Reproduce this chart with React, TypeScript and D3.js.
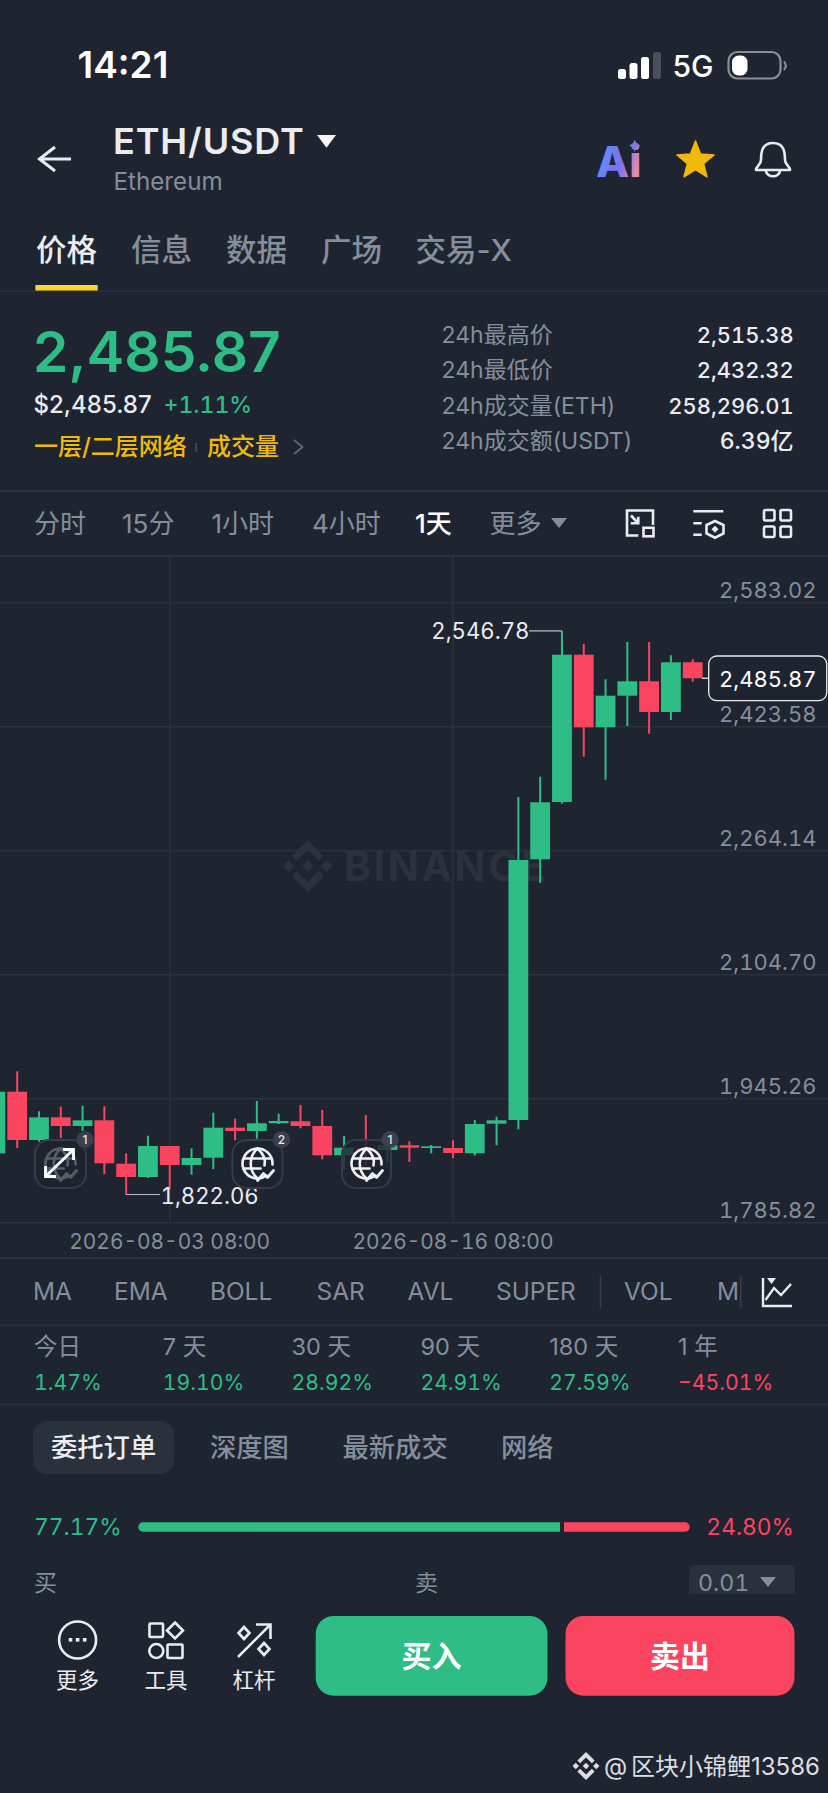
import React from "react";
import * as d3 from "d3";

const W = 828;
const H = 1793;
const BG = "#1f2530";
const GREEN = "#2ebd85";
const RED = "#fb4460";
const GRID = "#2b313c";
const MUTED = "#848e9c";
const LIGHT = "#eaecef";
const LATIN = "Inter, 'Noto Sans CJK SC', sans-serif";

const opens = [1875.06, 1954.26, 1892.15, 1921.34, 1910.16, 1917.48, 1861.68, 1844.58, 1884.44, 1860.02, 1869.4, 1907.97, 1903.73, 1913.63, 1916.2, 1910.16, 1872.48, 1882.25, 1879.3, 1885.34, 1881.87, 1881.87, 1875.06, 1913.11, 1917.87, 2253.08, 2326.76, 2516.16, 2422.81, 2463.44, 2481.96, 2442.48, 2506.39];
const closes = [1954.26, 1892.15, 1921.34, 1910.16, 1917.48, 1862.2, 1844.58, 1884.44, 1860.02, 1869.02, 1907.97, 1903.73, 1913.63, 1916.58, 1910.16, 1872.48, 1882.25, 1879.3, 1885.34, 1882.25, 1884.05, 1875.44, 1912.73, 1917.48, 2252.18, 2326.37, 2516.16, 2422.81, 2463.44, 2481.96, 2442.48, 2506.39, 2485.87];
const highs = [1960, 1980.49, 1929.06, 1934.97, 1936.26, 1935.49, 1875.06, 1897.68, 1884.44, 1881.48, 1927.26, 1919.54, 1942.3, 1925.97, 1937.16, 1930.73, 1897.3, 1924.3, 1888.3, 1890.48, 1885.73, 1891.77, 1917.87, 1922.11, 2333.19, 2359.29, 2546.78, 2529.92, 2484.53, 2532.49, 2532.49, 2515.38, 2510.24];
const lows = [1870, 1881.87, 1889.97, 1894.73, 1903.73, 1848.05, 1822.06, 1843.29, 1828.76, 1847.54, 1854.87, 1891.77, 1893.82, 1912.73, 1907.2, 1867.34, 1853.58, 1860.02, 1862.97, 1863.87, 1875.06, 1869.02, 1871.97, 1885.34, 1905.91, 2222.61, 2324.57, 2385.01, 2355.43, 2424.48, 2414.58, 2432.32, 2481.44];
const priceTicks = [2583.02, 2423.58, 2264.14, 2104.7, 1945.26, 1785.82];
const dateTicks = [{ index: 8, label: "2026-08-03 08:00" }, { index: 21, label: "2026-08-16 08:00" }];
const topTabs = [["价格", 36], ["信息", 131], ["数据", 226], ["广场", 321], ["交易-X", 415.5]] as const;
const statLabels = ["24h最高价", "24h最低价", "24h成交量(ETH)", "24h成交额(USDT)"];
const statValues = ["2,515.38", "2,432.32", "258,296.01", "6.39亿"];
const periods = [["分时", 34], ["15分", 122], ["1小时", 211.5], ["4小时", 312], ["1天", 415], ["更多", 489.5]] as const;
const indicators = [["MA", 33], ["EMA", 114], ["BOLL", 210], ["SAR", 316.5], ["AVL", 407.5], ["SUPER", 496], ["VOL", 624], ["MA", 717]] as const;
const perfLabels = ["今日", "7 天", "30 天", "90 天", "180 天", "1 年"];
const perfValues = [1.47, 19.1, 28.92, 24.91, 27.59, -45.01];
const bookTabs = [["深度图", 210], ["最新成交", 342.5], ["网络", 501]] as const;
const buyShare = 77.17;
const sellShare = 24.8;

const yScale = d3.scaleLinear().domain([1785.82, 2583.02]).range([1222.7, 602.7]);
const xScale = d3.scaleLinear().domain([0, 32]).range([-4.6, 692.7]);
const fmt = d3.format(",.2f");

const T = ({ x, y, s, c = MUTED, w = 400, a = "start", f = LATIN, ls, tn, children }: any) => (
  <text x={x} y={y} fontSize={s} fill={c} fontWeight={w} textAnchor={a} fontFamily={f} letterSpacing={ls} style={tn ? { fontFeatureSettings: "'tnum' 1" } : undefined}>
    {children}
  </text>
);

const Globe = ({ cx, cy, o = 1 }: any) => (
  <g opacity={o} fill="none" stroke="#f0f1f3" strokeWidth={2.6} strokeLinecap="round" strokeLinejoin="round">
    <path d={`M${cx + 9},${cy + 12} A15,15 0 1 1 ${cx + 15},${cy + 1}`} />
    <path d={`M${cx},${cy - 15} C${cx - 9},${cy - 7} ${cx - 9},${cy + 7} ${cx},${cy + 15}`} />
    <path d={`M${cx},${cy - 15} C${cx + 8},${cy - 8} ${cx + 8},${cy - 2} ${cx + 7},${cy + 2}`} />
    <path d={`M${cx - 13},${cy - 5} H${cx + 13}`} />
    <path d={`M${cx - 14},${cy + 5} H${cx + 3}`} />
    <path d={`M${cx},${cy + 17} L${cx + 6},${cy + 10} L${cx + 10},${cy + 14} L${cx + 16},${cy + 7}`} strokeWidth={2.8} />
  </g>
);

const EventIcon = ({ x0, x1, badge, dim }: any) => {
  const cy = 1163.5;
  return (
    <g>
      <rect x={x0} y={1140} width={x1 - x0} height={48} rx={14} fill={BG} fillOpacity={0.82} stroke="#363c47" strokeWidth={2} />
      <Globe cx={(x0 + x1) / 2} cy={cy} o={dim ? 0.28 : 1} />
      <circle cx={x1 - 1} cy={1139.5} r={8.6} fill="#3b414c" />
      <T x={x1 - 1} y={1144} s={12} a="middle" c="#e6e8ea" w={500}>{badge}</T>
    </g>
  );
};

const BinanceMark = ({ cx, cy, r, c }: any) => {
  const u = r / 26;
  const d = (x: number, y: number, k: number) => `M${cx + x * u},${cy + (y - k) * u} L${cx + (x + k) * u},${cy + y * u} L${cx + x * u},${cy + (y + k) * u} L${cx + (x - k) * u},${cy + y * u} Z`;
  return (
    <g fill={c}>
      <path d={d(0, 0, 6)} />
      <path d={d(-19, 0, 6)} />
      <path d={d(19, 0, 6)} />
      <path d={`M${cx},${cy - 26 * u} L${cx + 16 * u},${cy - 10 * u} L${cx + 11 * u},${cy - 5 * u} L${cx},${cy - 16 * u} L${cx - 11 * u},${cy - 5 * u} L${cx - 16 * u},${cy - 10 * u} Z`} />
      <path d={`M${cx},${cy + 26 * u} L${cx + 16 * u},${cy + 10 * u} L${cx + 11 * u},${cy + 5 * u} L${cx},${cy + 16 * u} L${cx - 11 * u},${cy + 5 * u} L${cx - 16 * u},${cy + 10 * u} Z`} />
    </g>
  );
};

export default function App() {
  const candleW = 19.8;
  const hiIdx = d3.greatestIndex(highs);
  const loIdx = d3.leastIndex(lows) as number;
  const last = closes[closes.length - 1];
  return (
    <svg width={W} height={H} viewBox={`0 0 ${W} ${H}`} style={{ position: "absolute", left: 0, top: 0, background: BG, display: "block" }}>
      <rect width={W} height={H} fill={BG} />

      {/* status bar */}
      <T x={77.5} y={78} s={37} c="#fff" w={600}>14:21</T>
      {[[618, 69], [629.5, 63], [641, 57], [653, 52]].map(([x, top], i) => (
        <rect key={i} x={x} y={top} width={8} height={79 - top} rx={2.5} fill={i === 3 ? "#4a4f59" : "#fff"} />
      ))}
      <T x={672.5} y={77} s={30} c="#fff" w={500}>5G</T>
      <rect x={728.5} y={52} width={52} height={26.5} rx={9} fill="none" stroke="#8a8f97" strokeWidth={2.2} />
      <rect x={732} y={55.5} width={15.5} height={20} rx={6.5} fill="#fff" />
      <path d="M784,61.5 Q787.5,65.5 784,70" fill="none" stroke="#8a8f97" strokeWidth={2} />

      {/* header */}
      <path d="M55,147 L39.5,159 L55,171 M39.5,159 H71" fill="none" stroke={LIGHT} strokeWidth={3} />
      <T x={113} y={154.3} s={36} c={LIGHT} w={600} ls={0.9}>ETH/USDT</T>
      <path d="M317,135 H336 L326.5,147.7 Z" fill="#f5f5f5" />
      <T x={113.5} y={190} s={24.2}>Ethereum</T>
      <defs>
        <linearGradient id="aiG" x1="0" y1="0" x2="1" y2="0.4">
          <stop offset="0" stopColor="#5b9bff" />
          <stop offset="0.65" stopColor="#7a70f0" />
          <stop offset="1" stopColor="#e08ab0" />
        </linearGradient>
      </defs>
      <text x={596} y={176.7} fontSize={43} fontWeight={800} fill="url(#aiG)" fontFamily={LATIN}>Ai</text>
      <path d="M634.7,139 Q635.5,144 640.5,145.5 Q635.5,147 634.7,152 Q634,147 629,145.5 Q634,144 634.7,139 Z" fill="#7c79f2" />
      <path d={`M695.5,141 ${d3.range(1, 10).map((i) => {
        const ang = (i * Math.PI) / 5;
        const rad = i % 2 ? 8.5 : 19.5;
        return `L${695.5 + rad * Math.sin(ang)},${161 - rad * Math.cos(ang)}`;
      }).join(" ")} Z`} fill="#f0b90b" stroke="#f0b90b" strokeWidth={1.5} strokeLinejoin="round" />
      <path d="M773,143 C762,143 761,152 761,160 C761,165 756,166 756,170 H790 C790,166 785,165 785,160 C785,152 784,143 773,143 Z M766,171 C767,178 779,178 780,171" fill="none" stroke={LIGHT} strokeWidth={2.6} strokeLinejoin="round" />

      {/* tabs */}
      {topTabs.map(([t, x], i) => (
        <T key={t} x={x} y={261} s={30.5} c={i === 0 ? LIGHT : MUTED} w={500}>{t}</T>
      ))}
      <rect x={35.4} y={285} width={62.3} height={6} fill="#fcd535" />
      <rect x={0} y={290.5} width={W} height={1.5} fill={GRID} />

      {/* price block */}
      <T x={33} y={371.7} s={56.8} c={GREEN} w={600}>2,485.87</T>
      <T x={33.5} y={413.3} s={24} c={LIGHT} w={500}>$2,485.87</T>
      <T x={163.5} y={413.3} s={23} c={GREEN} w={500} tn>+1.11%</T>
      <T x={34} y={455} s={24} c="#f0b90b" w={500}>一层/二层网络</T>
      <rect x={195.5} y={443} width={1.5} height={9} fill="#4a505b" />
      <T x={207} y={455} s={24} c="#f0b90b" w={500}>成交量</T>
      <path d="M294,440 L302.5,447 L294,454" fill="none" stroke="#5e6673" strokeWidth={1.8} />
      {statLabels.map((t, i) => (
        <T key={t} x={441.5} y={[343.3, 378.3, 414, 449.3][i]} s={23}>{t}</T>
      ))}
      {statValues.map((t, i) => (
        <T key={t} x={793.6} y={[343.3, 378.3, 414, 449.3][i]} s={i === 3 ? 23 : 21.9} c={LIGHT} w={500} a="end" tn>{t}</T>
      ))}
      <rect x={0} y={490} width={W} height={2} fill={GRID} />

      {/* periods */}
      {periods.map(([t, x]) => (
        <T key={t} x={x} y={533} s={26} c={t === "1天" ? "#fff" : MUTED} w={t === "1天" ? 500 : 400}>{t}</T>
      ))}
      <path d="M551,518 H567 L559,528 Z" fill={MUTED} />
      <g fill="none" stroke={LIGHT} strokeWidth={2.6}>
        <path d="M653,525 V510.5 H627 V535.5 H638.3" />
        <path d="M631,515.5 L638,523 M638.3,516.7 V523.3 H630.7" />
        <rect x={643.5} y={527.8} width={10} height={8.5} />
        <path d="M693.3,511.3 H723.3 M693.3,523.3 H701.7 M693.3,534.7 H701.7" />
        <path d="M715,521 L723.5,525 V533.5 L715,537.7 L706.5,533.5 V525 Z" />
        <rect x={764} y={510} width={10.5} height={10.5} rx={1.5} />
        <rect x={780.5} y={510} width={10.5} height={10.5} rx={1.5} />
        <rect x={764} y={526.5} width={10.5} height={10.5} rx={1.5} />
        <rect x={780.5} y={526.5} width={10.5} height={10.5} rx={1.5} />
      </g>
      <path d="M715,525.8 L718.5,529.3 L715,532.8 L711.5,529.3 Z" fill={LIGHT} />
      <rect x={0} y={555} width={W} height={2} fill={GRID} />

      {/* chart grid */}
      {priceTicks.map((p) => (
        <rect key={p} x={0} y={yScale(p) - 0.75} width={W} height={1.5} fill={GRID} />
      ))}
      {dateTicks.map((d) => (
        <rect key={d.label} x={xScale(d.index) - 0.75} y={556} width={1.5} height={667} fill={GRID} />
      ))}

      {/* watermark */}
      <BinanceMark cx={307.7} cy={866} r={26} c="#2b313d" />
      <text x={344} y={881} fontSize={41} fontWeight={700} fill="#2b313d" fontFamily={LATIN} letterSpacing={2.5}>BINANCE</text>

      {/* candles */}
      {opens.map((o, i) => {
        const c = closes[i];
        const col = c >= o ? GREEN : RED;
        const x = xScale(i);
        const top = yScale(Math.max(o, c));
        const bot = yScale(Math.min(o, c));
        return (
          <g key={i}>
            <rect x={x - 1} y={yScale(highs[i])} width={2} height={yScale(lows[i]) - yScale(highs[i])} fill={col} />
            <rect x={x - candleW / 2} y={top} width={candleW} height={Math.max(bot - top, 1.5)} fill={col} />
          </g>
        );
      })}

      {/* extremes */}
      <path d={`M${xScale(hiIdx)},${yScale(highs[hiIdx])} H529`} stroke="#b7bbc1" strokeWidth={1.2} fill="none" />
      <T x={529.5} y={639.3} s={22.2} c={LIGHT} a="end" tn>{fmt(highs[hiIdx])}</T>
      <path d={`M${xScale(loIdx)},${yScale(lows[loIdx])} H160`} stroke="#b7bbc1" strokeWidth={1.2} fill="none" />
      <T x={160.5} y={1204} s={22.2} c={LIGHT} tn>{fmt(lows[loIdx])}</T>

      {/* event icons */}
      <EventIcon x0={35} x1={86} badge="1" dim />
      <g fill="none" stroke="#fff" strokeWidth={2.8}>
        <path d="M46,1176 L73,1150 M63,1149.5 H73.5 V1160 M56,1176.5 H45.5 V1166" />
      </g>
      <EventIcon x0={232.5} x1={282.5} badge="2" />
      <EventIcon x0={342} x1={391} badge="1" />

      {/* axis labels */}
      {priceTicks.map((p) => (
        <T key={p} x={816.5} y={yScale(p) - 4.4} s={22} a="end" tn>{fmt(p)}</T>
      ))}
      <path d={`M702,${yScale(last)} H709`} stroke="#d8dadd" strokeWidth={1.4} />
      <rect x={708.7} y={656} width={118} height={44.7} rx={8} fill={BG} stroke={LIGHT} strokeWidth={1.3} />
      <T x={816.5} y={687.3} s={22} c="#fff" a="end" tn>{fmt(last)}</T>
      {dateTicks.map((d) => (
        <T key={d.label} x={xScale(d.index)} y={1249.3} s={20.9} a="middle" tn>{d.label}</T>
      ))}
      <rect x={0} y={1257} width={W} height={2} fill={GRID} />

      {/* indicators */}
      <clipPath id="indClip"><rect x={0} y={1270} width={739.5} height={45} /></clipPath>
      <g clipPath="url(#indClip)">
        {indicators.map(([t, x], i) => (
          <T key={i} x={x} y={1300} s={24.4}>{t}</T>
        ))}
      </g>
      <rect x={599.7} y={1276} width={1.5} height={32} fill="#3a404b" />
      <rect x={740} y={1276} width={1.5} height={32} fill="#3a404b" />
      <path d="M763,1278 V1306 H792" fill="none" stroke={LIGHT} strokeWidth={2.4} />
      <path d="M765.5,1300 L774,1288 L781,1295 L791,1284" fill="none" stroke={LIGHT} strokeWidth={2.4} />
      <path d="M767,1278 H776 L771.5,1284 Z" fill={LIGHT} />
      <rect x={0} y={1324.5} width={W} height={1.5} fill={GRID} />

      {/* performance */}
      {perfLabels.map((t, i) => (
        <T key={t} x={34 + i * 128.8} y={1355} s={23.5}>{t}</T>
      ))}
      {perfValues.map((v, i) => (
        <T key={i} x={34 + i * 128.8} y={1390} s={21.2} c={v >= 0 ? GREEN : RED} tn>{d3.format(".2f")(v)}%</T>
      ))}
      <rect x={0} y={1403.5} width={W} height={2} fill={GRID} />

      {/* book tabs */}
      <rect x={33} y={1421} width={141} height={53} rx={14} fill="#2b313c" />
      <T x={51} y={1457} s={26.3} c={LIGHT} w={500}>委托订单</T>
      {bookTabs.map(([t, x]) => (
        <T key={t} x={x} y={1457} s={26.3} c={MUTED} w={500}>{t}</T>
      ))}

      {/* ratio */}
      <T x={34} y={1535} s={22.8} c={GREEN} tn>{buyShare}%</T>
      <path d="M143,1522.3 H560 V1531.7 H143 A4.7,4.7 0 0 1 143,1522.3 Z" fill={GREEN} />
      <path d="M564,1522.3 H685 A4.7,4.7 0 0 1 685,1531.7 H564 Z" fill={RED} />
      <T x={794} y={1535} s={22.8} c={RED} a="end" tn>{d3.format(".2f")(sellShare)}%</T>
      <T x={34} y={1590.7} s={23}>买</T>
      <T x={415} y={1590.7} s={23}>卖</T>
      <path d="M689,1593.7 V1571 Q689,1565 695,1565 H789 Q795,1565 795,1571 V1593.7 Z" fill="#2b313c" />
      <T x={698} y={1590.7} s={23.2} tn>0.01</T>
      <path d="M760,1577 H776 L768,1587 Z" fill={MUTED} />

      {/* bottom bar */}
      <circle cx={77.6} cy={1640} r={18.5} fill="none" stroke={LIGHT} strokeWidth={2.6} />
      {[70.5, 77.6, 84.7].map((x) => (
        <rect key={x} x={x - 1.8} y={1638} width={3.6} height={3.6} fill={LIGHT} />
      ))}
      <T x={77.6} y={1687.7} s={21.5} c={LIGHT} a="middle">更多</T>
      <g fill="none" stroke={LIGHT} strokeWidth={2.6}>
        <rect x={149.5} y={1623.5} width={13.5} height={13.5} rx={1} />
        <path d="M175,1622.5 L183,1630.5 L175,1638.5 L167,1630.5 Z" />
        <circle cx={156.3} cy={1651} r={7} />
        <rect x={167.5} y={1644.5} width={15} height={13.5} rx={1} />
        <path d="M238,1657 L270,1625 M256,1624.5 H270.5 V1639" />
        <path d="M244,1627 L249.5,1633 L244,1639 L238.5,1633 Z" />
        <path d="M264,1643 L269.5,1649 L264,1655 L258.5,1649 Z" />
      </g>
      <T x={166} y={1687.7} s={21.5} c={LIGHT} a="middle">工具</T>
      <T x={254} y={1687.7} s={21.5} c={LIGHT} a="middle">杠杆</T>
      <rect x={315.7} y={1616} width={231.8} height={79.7} rx={18} fill={GREEN} />
      <T x={431.6} y={1667} s={30} c="#fff" a="middle" w={600}>买入</T>
      <rect x={565.5} y={1616} width={229} height={79.7} rx={18} fill={RED} />
      <T x={680} y={1667} s={30} c="#fff" a="middle" w={600}>卖出</T>

      {/* footer watermark */}
      <BinanceMark cx={586} cy={1766} r={14} c="#dcdee1" />
      <T x={604} y={1775} s={24} c="#dcdee1">@</T>
      <T x={631} y={1775} s={24} c="#dcdee1">区块小锦鲤13586</T>
    </svg>
  );
}
